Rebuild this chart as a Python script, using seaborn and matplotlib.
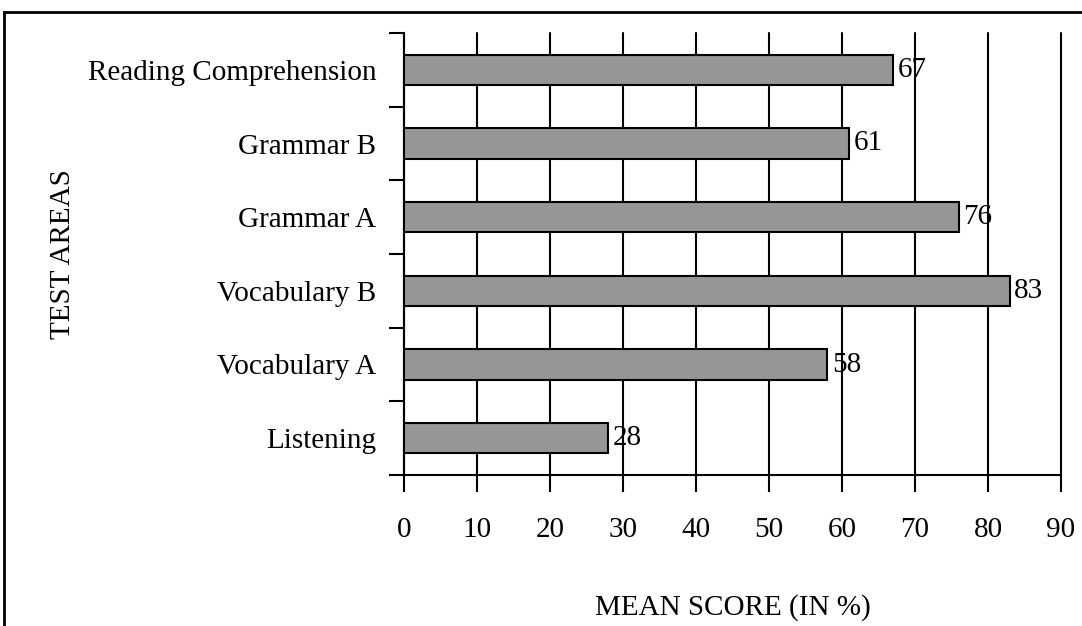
import matplotlib
matplotlib.use("Agg")
import matplotlib.pyplot as plt
import seaborn as sns
import pandas as pd
from matplotlib.patches import Rectangle
from matplotlib.ticker import FixedLocator

categories = ["Reading Comprehension", "Grammar B", "Grammar A",
              "Vocabulary B", "Vocabulary A", "Listening"]
scores = [67, 61, 76, 83, 58, 28]
x_ticks = [0, 10, 20, 30, 40, 50, 60, 70, 80, 90]

df = pd.DataFrame({"area": categories, "score": scores})

sns.set_style("white")
plt.rcParams["font.family"] = ["Liberation Serif", "DejaVu Serif"]
plt.rcParams["text.color"] = "black"
plt.rcParams["xtick.color"] = "black"
plt.rcParams["ytick.color"] = "black"
plt.rcParams["axes.labelcolor"] = "black"
FS = 21

fig = plt.figure(figsize=(10.82, 6.26), dpi=100)
ax = fig.add_axes([404/1082, 1-475/626, (1061-404)/1082, (475-33)/626])

sns.barplot(data=df, x="score", y="area", orient="h", order=categories,
            color="#969696", saturation=1, width=0.41,
            edgecolor="black", linewidth=1.5, ax=ax, zorder=3)

ax.set_xlim(0, 90)
ax.set_ylim(len(categories)-0.5, -0.5)
ax.set_xticks(x_ticks)
ax.set_xticklabels([str(t) for t in x_ticks], fontsize=FS)
ax.xaxis.grid(True, color="black", linewidth=1.5, zorder=0)
for gl in ax.get_xgridlines():
    gl.set_clip_on(False)
ax.set_axisbelow(True)
ax.tick_params(axis="x", which="major", direction="out", length=12, width=1.5,
               color="black", pad=18, bottom=True, labelcolor="black")
ax.tick_params(axis="y", which="major", length=0, pad=20, labelsize=FS,
               labelcolor="black")
ax.yaxis.set_minor_locator(FixedLocator([i-0.5 for i in range(len(categories)+1)]))
ax.tick_params(axis="y", which="minor", direction="out", length=11, width=1.5,
               color="black", left=True)

for s in ["top", "right"]:
    ax.spines[s].set_visible(False)
for s in ["left", "bottom"]:
    ax.spines[s].set_color("black")
    ax.spines[s].set_linewidth(1.5)

for i, v in enumerate(scores):
    ax.text(v + 0.6, i, str(v), va="center", ha="left", fontsize=FS,
            color="black", zorder=5)

ax.set_xlabel("MEAN SCORE (IN %)", fontsize=FS, color="black")
ax.xaxis.set_label_coords(0.5, -(608-475)/442, transform=ax.transAxes)
ax.xaxis.label.set_va("center")
ax.set_ylabel("TEST AREAS", fontsize=FS, color="black")
ax.yaxis.set_label_coords(-(404-63)/657, 0.5)
ax.yaxis.label.set_va("center")

frame = Rectangle((4/1082, -0.2), 1.5, 1.2 - 12/626, transform=fig.transFigure,
                  fill=False, edgecolor="black", linewidth=2, clip_on=False)
fig.patches.append(frame)

fig.savefig("out.png", dpi=100)
